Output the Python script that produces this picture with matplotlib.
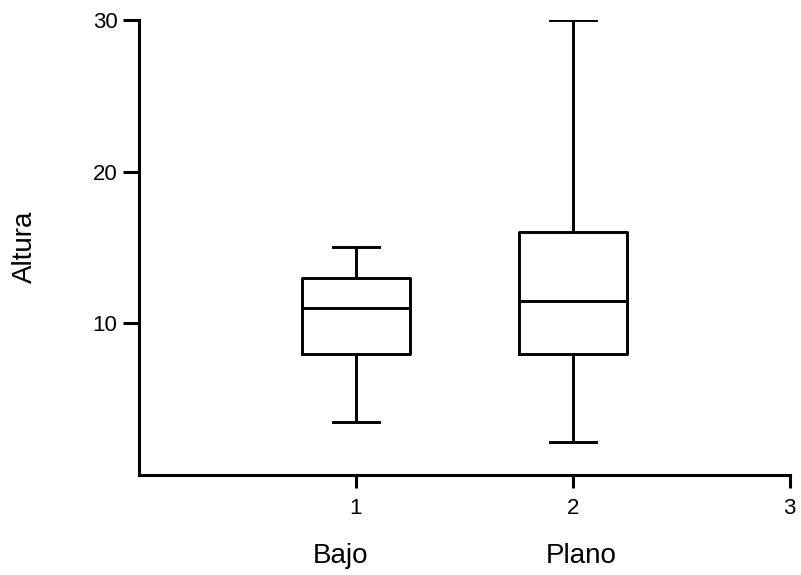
import matplotlib.pyplot as plt

plt.rcParams['font.family'] = ['Liberation Sans', 'DejaVu Sans']

groups = ["Bajo", "Plano"]
positions = [1, 2]
whislo = [3.5, 2.2]
q1 = [8.0, 8.0]
med = [11.0, 11.5]
q3 = [13.0, 16.0]
whishi = [15.0, 30.0]

stats = []
for i in range(len(groups)):
    stats.append({"label": groups[i], "whislo": whislo[i], "q1": q1[i],
                  "med": med[i], "q3": q3[i], "whishi": whishi[i], "fliers": []})

fig = plt.figure(figsize=(8.01, 5.75), dpi=100)
ax = fig.add_axes([0.1735, 0.174, 0.8125, 0.7913])

lw = 2.1
ax.bxp(stats, positions=positions, widths=0.5, showfliers=False,
       boxprops=dict(color='black', linewidth=lw),
       medianprops=dict(color='black', linewidth=lw),
       whiskerprops=dict(color='black', linewidth=lw),
       capprops=dict(color='black', linewidth=lw),
       capwidths=0.21)

ax.set_xlim(0, 3)
ax.set_ylim(0, 30)
ax.set_xticks([1, 2, 3])
ax.set_xticklabels(["1", "2", "3"])
ax.set_yticks([10, 20, 30])

ax.spines['top'].set_visible(False)
ax.spines['right'].set_visible(False)
for s in ['left', 'bottom']:
    ax.spines[s].set_linewidth(2.2)
ax.tick_params(width=2.2, labelsize=16)
ax.tick_params(axis='y', length=11.5, pad=4)
ax.tick_params(axis='x', length=9.4, pad=7)

fig.text(25 / 801, 1 - 247 / 575, "Altura", rotation=90,
         ha='center', va='center', fontsize=20)

# group names under the axis
for xf, g in zip([0.309, 0.679], groups):
    ax.text(xf, -0.178, g, transform=ax.transAxes,
            ha='center', va='center', fontsize=20)

fig.savefig("out.png", dpi=100)
